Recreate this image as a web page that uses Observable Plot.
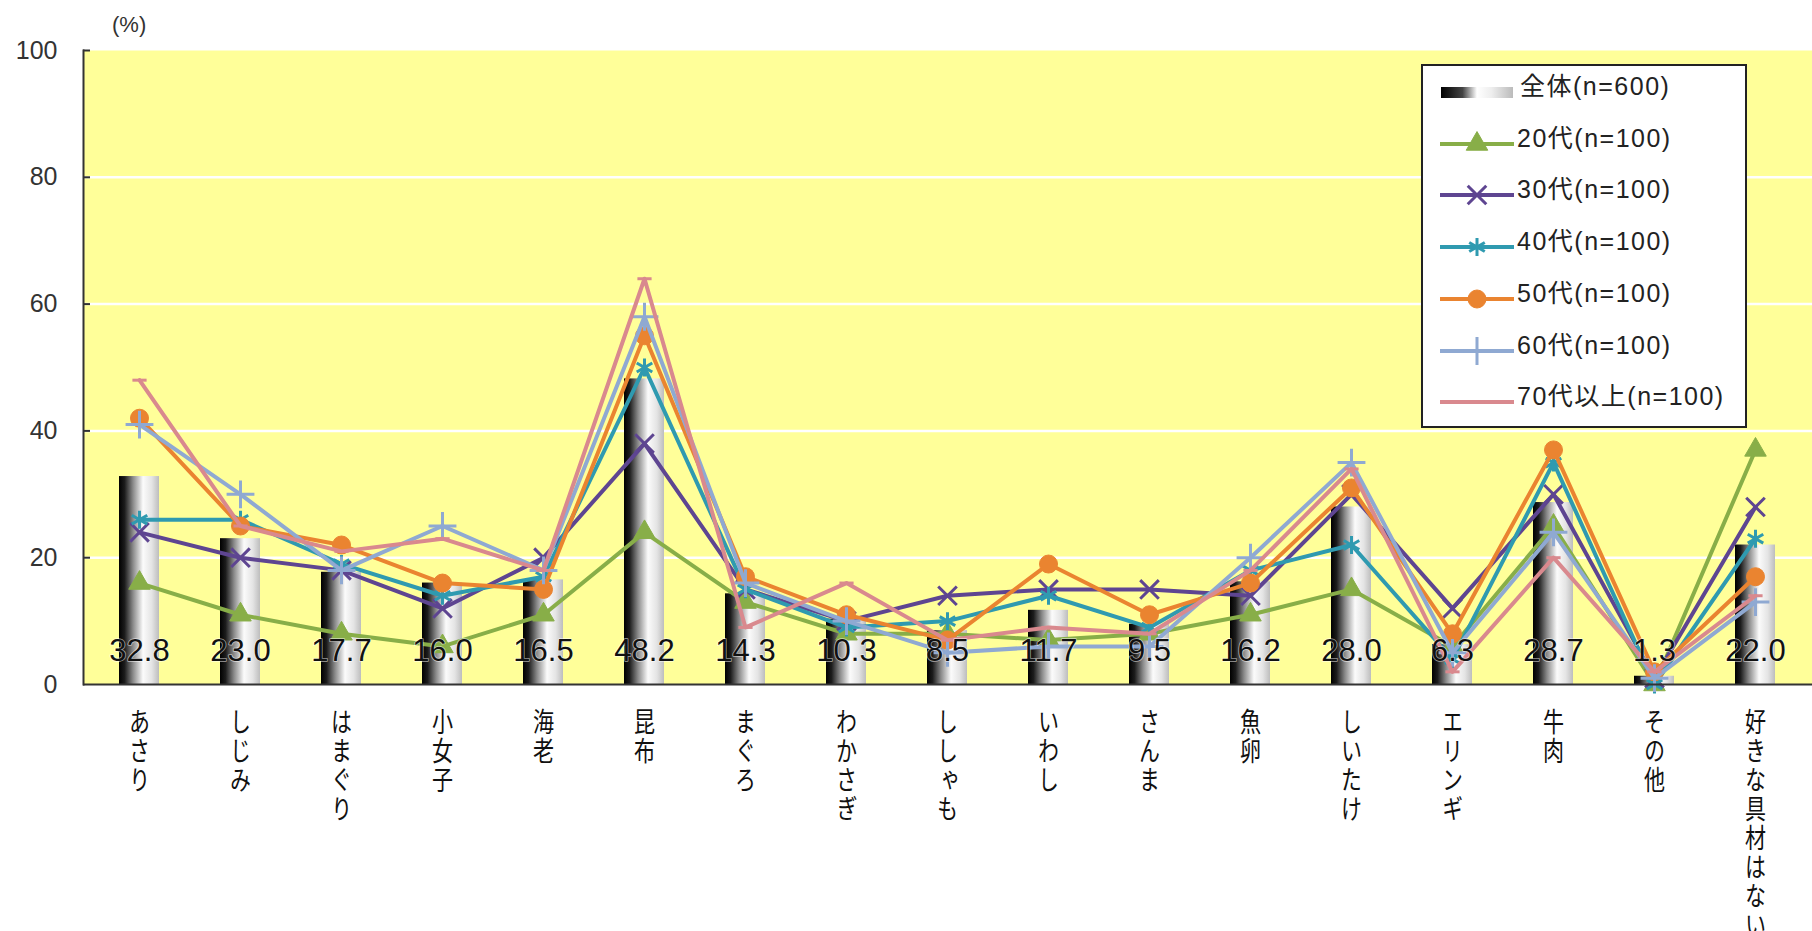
<!DOCTYPE html>
<html>
<head>
<meta charset="utf-8">
<script src="https://cdn.jsdelivr.net/npm/d3@7"></script>
<script src="https://cdn.jsdelivr.net/npm/@observablehq/plot@0.6"></script>
<style>
  body { margin: 0; background: #fff; }
  #wrap { position: relative; width: 1812px; height: 931px; overflow: hidden; }
  #unit { position: absolute; left: 112px; top: 12px; font: 22px "Liberation Sans", "Noto Sans CJK JP", sans-serif; color: #333; }
  #legend { position: absolute; left: 1421px; top: 64px; width: 322px; height: 360px; border: 2px solid #222; background: #fff; box-sizing: content-box; }
  .row { position: absolute; left: 0; height: 52px; width: 322px; }
  .row svg { position: absolute; left: 0; top: 0; }
  .row span { position: absolute; left: 94px; top: 0; line-height: 52px; font: 25px "Liberation Sans", "Noto Sans CJK JP", sans-serif; letter-spacing: 1.5px; color: #222; white-space: nowrap; }
</style>
</head>
<body>
<div id="wrap">
  <div id="chart"></div>
  <div id="unit">(%)</div>
  <div id="legend"></div>
</div>
<script>
// ---- data ----
const categories = ["あさり","しじみ","はまぐり","小女子","海老","昆布","まぐろ","わかさぎ","ししゃも","いわし","さんま","魚卵","しいたけ","エリンギ","牛肉","その他","好きな具材はない"];
const total = [32.8,23.0,17.7,16.0,16.5,48.2,14.3,10.3,8.5,11.7,9.5,16.2,28.0,6.3,28.7,1.3,22.0];
const age20 = [16,11,8,6,11,24,13,8,8,7,8,11,15,6,25,0,37];
const age30 = [24,20,18,12,20,38,15,10,14,15,15,14,30,12,30,1,28];
const age40 = [26,26,19,14,17,50,15,9,10,14,9,18,22,4,35,0,23];
const age50 = [42,25,22,16,15,55,17,11,7,19,11,16,31,8,37,2,17];
const age60 = [41,30,18,25,18,58,16,10,5,6,6,20,35,5,24,1,13];
const age70 = [48,25,21,23,18,64,9,16,7,9,8,18,34,2,20,2,14];
const totalName = "全体(n=600)";
const seriesNames = ["20代(n=100)","30代(n=100)","40代(n=100)","50代(n=100)","60代(n=100)","70代以上(n=100)"];
const yTicks = [0,20,40,60,80,100];

// ---- styles ----
const seriesValues = [age20, age30, age40, age50, age60, age70];
const seriesColors = ["#88AE48","#5E4591","#2F9AB0","#EA8430","#8FA9D2","#D9898E"];
const dashSymbol = { draw(ctx, size) { const w = Math.sqrt(size) * 0.5; ctx.moveTo(-w, 0); ctx.lineTo(w, 0); } };
const symbolSpecs = [
  {symbol: "triangle", filled: true, r: 8},
  {symbol: "times", filled: false, r: 8.5},
  {symbol: "asterisk", filled: false, r: 8.5},
  {symbol: "circle", filled: true, r: 9},
  {symbol: "plus", filled: false, r: 9},
  {symbol: dashSymbol, filled: false, r: 8}
];

const totalRows = categories.map((c, i) => ({cat: c, value: total[i]}));
const seriesRows = seriesNames.map((name, s) => categories.map((c, i) => ({cat: c, value: seriesValues[s][i], series: name})));

const lineMarks = [];
seriesRows.forEach((rows, s) => {
  const col = seriesColors[s];
  const spec = symbolSpecs[s];
  lineMarks.push(Plot.line(rows, {x: "cat", y: "value", stroke: col, strokeWidth: 4, curve: "linear"}));
  lineMarks.push(Plot.dot(rows, {
    x: "cat", y: "value", symbol: spec.symbol, r: spec.r,
    fill: spec.filled ? col : "none", stroke: col, strokeWidth: spec.filled ? 1 : 3
  }));
});

const chart = Plot.plot({
  width: 1812,
  height: 931,
  marginLeft: 83,
  marginRight: 0,
  marginTop: 50,
  marginBottom: 247,
  style: {background: "transparent", fontFamily: "'Liberation Sans', 'Noto Sans CJK JP', sans-serif"},
  x: {type: "band", domain: categories, paddingInner: 0.6, paddingOuter: 0.3, axis: null},
  y: {domain: [0, 100], axis: null, label: null},
  marks: [
    Plot.frame({fill: "#FFFF99", stroke: "none"}),
    Plot.gridY([20, 40, 60, 80], {stroke: "#ffffff", strokeWidth: 2.5, strokeOpacity: 1}),
    Plot.barY(totalRows, {x: "cat", y: "value", fill: "url(#barGrad)"}),
    ...lineMarks,
    Plot.text(totalRows, {
      x: "cat", text: d => d3.format(".1f")(d.value), frameAnchor: "bottom", lineAnchor: "bottom", dy: -24,
      fontSize: 31, fill: "#111", stroke: "white", strokeWidth: 1.5, strokeOpacity: 0.6,
      fontFamily: "'Liberation Sans', sans-serif"
    }),
    Plot.ruleY([0], {stroke: "#333", strokeWidth: 2}),
    Plot.frame({anchor: "left", stroke: "#333", strokeWidth: 2}),
    Plot.axisY(yTicks, {tickSize: 0, tickPadding: 26, fontSize: 25, color: "#333", label: null, fontFamily: "'Liberation Sans', sans-serif"}),
    Plot.axisY(yTicks.slice(1), {tickSize: -7, tickFormat: () => "", stroke: "#333", strokeWidth: 2, label: null}),
    Plot.text(categories, {
      x: d => d, text: d => d, frameAnchor: "bottom", textAnchor: "start", lineAnchor: "top", dy: 5,
      fontSize: 27, fill: "#111", fontFamily: "'Noto Sans CJK JP', sans-serif",
      ariaDescription: "xlabels"
    })
  ]
});

// bar gradient (cylinder look)
const defs = d3.select(chart).insert("defs", ":first-child");
const grad = defs.append("linearGradient").attr("id", "barGrad").attr("x1", "0").attr("x2", "1").attr("y1", "0").attr("y2", "0");
[[0, "#000"], [0.14, "#1c1c1c"], [0.35, "#8a8a8a"], [0.6, "#fbfbfb"], [0.82, "#e4e4e4"], [1, "#bdbdbd"]]
  .forEach(([o, c]) => grad.append("stop").attr("offset", o).attr("stop-color", c));

// vertical category labels (top-to-bottom), slightly narrowed glyphs
d3.select(chart).selectAll('g[aria-description="xlabels"] text').each(function() {
  this.style.writingMode = "vertical-rl";
  this.style.letterSpacing = "2px";
  const t = this.getAttribute("transform") || "";
  this.setAttribute("transform", t + " scale(0.78,1)");
});

document.getElementById("chart").appendChild(chart);

// ---- legend ----
const legend = document.getElementById("legend");
const ns = "http://www.w3.org/2000/svg";
function addRow(i, label, draw) {
  const row = document.createElement("div");
  row.className = "row";
  row.style.top = (i * 51.7) + "px";
  const svg = document.createElementNS(ns, "svg");
  svg.setAttribute("width", 92); svg.setAttribute("height", 52);
  draw(d3.select(svg));
  row.appendChild(svg);
  const span = document.createElement("span");
  span.textContent = label;
  if (i === 0) span.style.left = "97px";
  row.appendChild(span);
  legend.appendChild(row);
}
addRow(0, totalName, g => {
  const lg = g.append("defs").append("linearGradient").attr("id", "legGrad");
  [[0, "#000"], [0.3, "#444"], [0.5, "#fff"], [0.7, "#eee"], [1, "#bbb"]].forEach(([o, c]) => lg.append("stop").attr("offset", o).attr("stop-color", c));
  g.append("rect").attr("x", 18).attr("y", 21).attr("width", 72).attr("height", 11).attr("fill", "url(#legGrad)");
});
seriesNames.forEach((name, s) => {
  addRow(s + 1, name, g => {
    const col = seriesColors[s], spec = symbolSpecs[s];
    g.append("line").attr("x1", 17).attr("x2", 91).attr("y1", 26).attr("y2", 26).attr("stroke", col).attr("stroke-width", 4);
    const type = typeof spec.symbol === "string"
      ? {triangle: d3.symbolTriangle, times: d3.symbolTimes, asterisk: d3.symbolAsterisk, circle: d3.symbolCircle, plus: d3.symbolPlus}[spec.symbol]
      : spec.symbol;
    g.append("path").attr("transform", "translate(54,26)")
      .attr("d", d3.symbol(type, Math.PI * spec.r * spec.r)())
      .attr("fill", spec.filled ? col : "none").attr("stroke", col).attr("stroke-width", spec.filled ? 1 : 3);
  });
});
</script>
</body>
</html>
